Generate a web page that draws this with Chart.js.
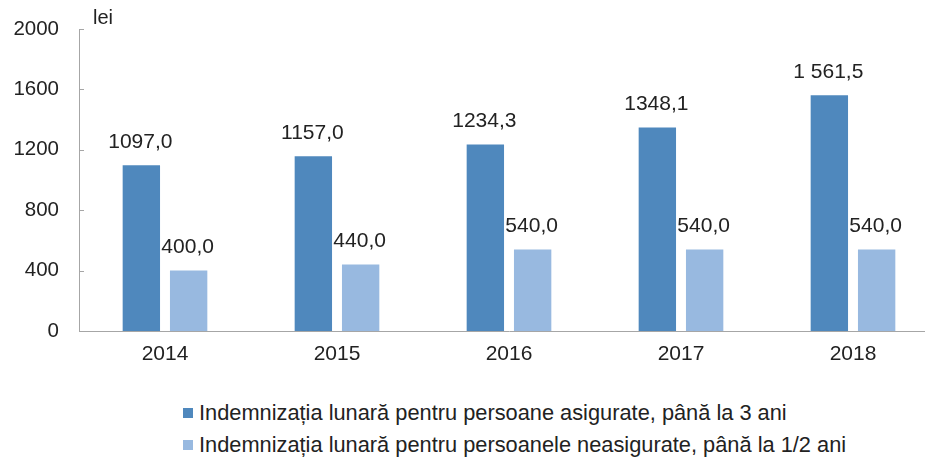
<!DOCTYPE html>
<html>
<head>
<meta charset="utf-8">
<script src="https://cdn.jsdelivr.net/npm/chart.js@4"></script>
<style>
  body { margin: 0; background: #fff; overflow: hidden; font-family: "Liberation Sans", Arial, sans-serif; }
  #wrap { position: relative; width: 940px; height: 380px; }
  #chart { display: block; }
  #legend { position: absolute; left: 183px; top: 400px; font-size: 21.8px; color: #222; }
  #legend div { height: 32px; line-height: 26px; white-space: nowrap; }
  #legend span { display: inline-block; width: 10px; height: 10px; margin-right: 6px; vertical-align: 2px; }
</style>
</head>
<body>
<div id="wrap"><canvas id="chart" width="940" height="380"></canvas></div>
<div id="legend"></div>
<script>
// chart data
let years = ['2014', '2015', '2016', '2017', '2018'];
let insured = [1097.0, 1157.0, 1234.3, 1348.1, 1561.5];
let uninsured = [400.0, 440.0, 540.0, 540.0, 540.0];
let insuredLabels = ['1097,0', '1157,0', '1234,3', '1348,1', '1 561,5'];
let uninsuredLabels = ['400,0', '440,0', '540,0', '540,0', '540,0'];
let seriesNames = [
    'Indemnizația lunară pentru persoane asigurate, până la 3 ani',
    'Indemnizația lunară pentru persoanele neasigurate, până la 1/2 ani'
];
let yTicks = [0, 400, 800, 1200, 1600, 2000];

let darkBlue = '#4F88BD';
let lightBlue = '#98B9E0';
let axisColor = '#A6A6A6';
let textFont = '"Liberation Sans", Arial, sans-serif';

// draws the value labels, the small inner y ticks and the "lei" unit
let extrasPlugin = {
    id: 'extras',
    afterDatasetsDraw(chart) {
        let ctx = chart.ctx;
        ctx.save();
        ctx.font = '21px ' + textFont;
        ctx.fillStyle = '#222';
        ctx.textAlign = 'center';
        ctx.textBaseline = 'middle';
        let allLabels = [insuredLabels, uninsuredLabels];
        chart.data.datasets.forEach((ds, i) => {
            let meta = chart.getDatasetMeta(i);
            meta.data.forEach((bar, j) => {
                ctx.fillText(allLabels[i][j], bar.x - 1, bar.y - 23);
            });
        });
        // small ticks on the inside of the y axis
        let yScale = chart.scales.y;
        ctx.strokeStyle = axisColor;
        ctx.lineWidth = 1;
        yTicks.forEach(t => {
            let y = Math.round(yScale.getPixelForValue(t)) + 0.5;
            ctx.beginPath();
            ctx.moveTo(yScale.right, y);
            ctx.lineTo(yScale.right + 5, y);
            ctx.stroke();
        });
        ctx.textAlign = 'left';
        ctx.font = '20px ' + textFont;
        ctx.fillText('lei', 93, 18);
        ctx.restore();
    }
};

let ctx = document.getElementById('chart').getContext('2d');
let barChart = new Chart(ctx, {
    type: 'bar',
    data: {
        labels: years,
        datasets: [
            { label: seriesNames[0], data: insured, backgroundColor: darkBlue, borderWidth: 0 },
            { label: seriesNames[1], data: uninsured, backgroundColor: lightBlue, borderWidth: 0 }
        ]
    },
    options: {
        responsive: false,
        animation: false,
        categoryPercentage: 0.55,
        barPercentage: 0.79,
        layout: { padding: { top: 29, right: 1, left: 0, bottom: 0 } },
        plugins: {
            legend: { display: false },
            tooltip: { enabled: false }
        },
        scales: {
            x: {
                grid: { display: false, drawTicks: false },
                border: { color: axisColor, width: 1 },
                ticks: { color: '#222', font: { size: 21, family: textFont }, padding: 11 },
                afterFit(axis) { axis.height = 49; }
            },
            y: {
                min: 0,
                max: 2000,
                afterBuildTicks(axis) { axis.ticks = yTicks.map(v => ({ value: v })); },
                grid: { display: false, drawTicks: false },
                border: { color: axisColor, width: 1 },
                ticks: {
                    color: '#222',
                    font: { size: 20.5, family: textFont },
                    padding: 20,
                    callback: value => String(value)
                },
                afterFit(axis) {
                    axis.width = 79;
                    axis.paddingTop = 0;
                    axis.paddingBottom = 0;
                }
            }
        }
    },
    plugins: [extrasPlugin]
});

// legend as a simple list under the chart
let legendBox = document.getElementById('legend');
seriesNames.forEach((name, i) => {
    let row = document.createElement('div');
    let swatch = document.createElement('span');
    swatch.style.background = i === 0 ? darkBlue : lightBlue;
    row.appendChild(swatch);
    row.appendChild(document.createTextNode(name));
    legendBox.appendChild(row);
});
</script>
</body>
</html>
